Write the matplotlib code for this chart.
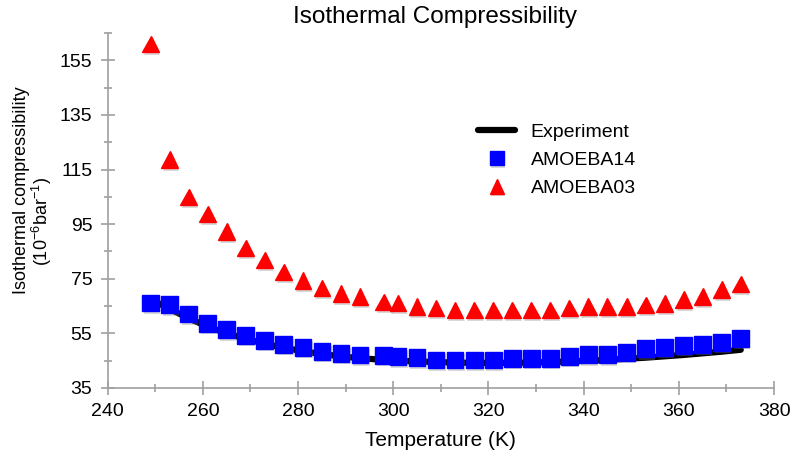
import numpy as np
import matplotlib
matplotlib.use('Agg')
import matplotlib.pyplot as plt
from matplotlib.ticker import MultipleLocator
import matplotlib.patheffects as pe

plt.rcParams['font.family'] = ['Liberation Sans', 'DejaVu Sans']
plt.rcParams['mathtext.default'] = 'regular'

# temperatures (K)
temps = [249, 253, 257, 261, 265, 269, 273, 277, 281, 285, 289, 293, 298,
         301, 305, 309, 313, 317, 321, 325, 329, 333, 337, 341, 345, 349,
         353, 357, 361, 365, 369, 373]

# isothermal compressibility (10^-6 bar^-1)
experiment = [67.5, 64.0, 60.5, 57.5, 55.0, 53.0, 51.2, 49.7, 48.5, 47.4, 46.6,
              45.9, 45.3, 45.0, 44.7, 44.5, 44.3, 44.2, 44.2, 44.2, 44.3, 44.5,
              44.7, 45.0, 45.3, 45.7, 46.1, 46.6, 47.1, 47.7, 48.3, 49.0]
amoeba14 = [66.1, 65.5, 62.1, 58.7, 56.3, 54.3, 52.5, 51.0, 49.9, 48.4, 47.7,
            47.1, 47.0, 46.5, 46.2, 45.3, 45.3, 45.3, 45.3, 45.9, 45.9, 45.9,
            46.6, 47.3, 47.3, 48.1, 49.4, 49.9, 50.6, 51.0, 51.7, 53.2]
amoeba03 = [161.0, 118.6, 105.0, 98.7, 92.2, 86.3, 81.9, 77.5, 74.4, 71.6, 69.6,
            68.5, 66.5, 66.1, 64.8, 64.3, 63.5, 63.5, 63.5, 63.5, 63.5, 63.5,
            64.3, 64.8, 64.8, 64.8, 65.4, 65.9, 67.4, 68.5, 71.1, 73.1]

fig = plt.figure(figsize=(8, 4.61), dpi=100)
ax = fig.add_axes([0.1346, 0.1584, 0.833, 0.77])

shadow = [pe.SimplePatchShadow(offset=(1, -2), shadow_rgbFace='gray', alpha=0.3),
          pe.Normal()]

ax.plot(temps, experiment, color='black', lw=4.5, solid_capstyle='round',
        label='Experiment', zorder=2)
ax.plot(temps, amoeba14, ls='none', marker='s', ms=12, color='#0000FF',
        mec='#0000FF', label='AMOEBA14', zorder=3, path_effects=shadow)
ax.plot(temps, amoeba03, ls='none', marker='^', ms=12, color='#FF0000',
        mec='#FF0000', label='AMOEBA03', zorder=3, path_effects=shadow)

ax.set_xlim(240, 380)
ax.set_ylim(35, 165)
ax.xaxis.set_major_locator(MultipleLocator(20))
ax.xaxis.set_minor_locator(MultipleLocator(10))
ax.set_yticks([35, 55, 75, 95, 115, 135, 155])
ax.set_yticks(np.arange(45, 166, 20), minor=True)

for s in ['top', 'right']:
    ax.spines[s].set_visible(False)
for s in ['left', 'bottom']:
    ax.spines[s].set_color('#A0A0A0')
    ax.spines[s].set_linewidth(1.2)

ax.tick_params(which='major', direction='inout', length=10, width=1.2,
               color='#A0A0A0', labelsize=14, pad=6)
ax.tick_params(which='minor', direction='inout', length=6, width=1.2,
               color='#A0A0A0')

ax.set_xlabel('Temperature (K)', fontsize=15, labelpad=8)

fig.text(22 / 800, 1 - 190 / 461, 'Isothermal compressibility', rotation=90,
         ha='center', va='center', fontsize=13)
fig.text(42 / 800, 1 - 221 / 461, '(10$^{-6}$bar$^{-1}$)', rotation=90,
         ha='center', va='center', fontsize=13)

fig.text(435 / 800, 1 - 17 / 461, 'Isothermal Compressibility',
         ha='center', va='center', fontsize=17.5)

ax.legend(loc='upper left', bbox_to_anchor=(0.588, 0.750),
          bbox_transform=fig.transFigure, frameon=False, fontsize=14,
          handlelength=1.9, handletextpad=0.8, labelspacing=0.55,
          markerscale=0.85, borderaxespad=0)

fig.savefig('out.png', dpi=100)
